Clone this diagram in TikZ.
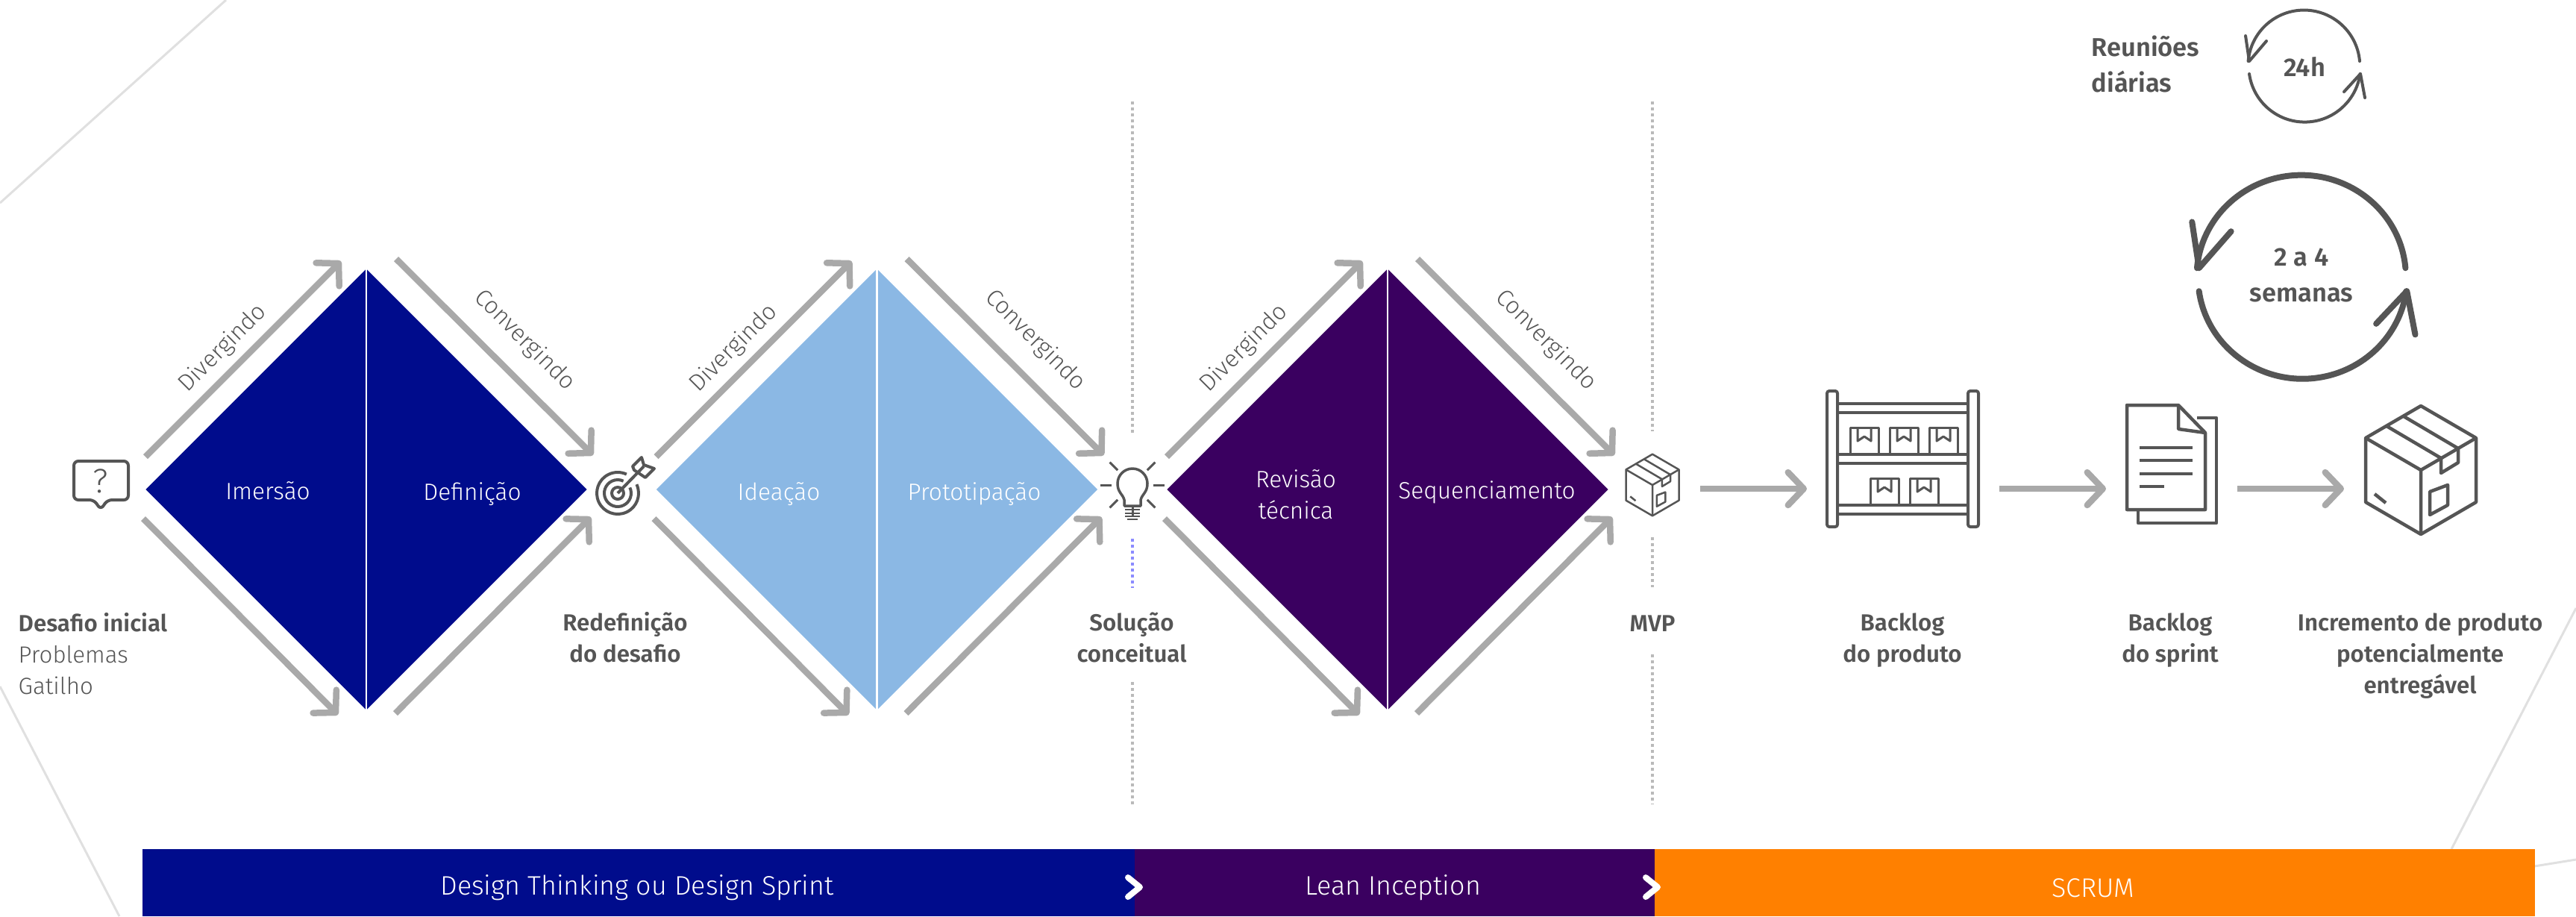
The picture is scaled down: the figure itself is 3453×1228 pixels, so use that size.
\documentclass[tikz,border=0pt]{standalone}
\usepackage{fontspec}
\setmainfont{Fira Sans}[UprightFont=* Light, BoldFont=* SemiBold]
\usepackage{tikz}
\usetikzlibrary{arrows.meta,shapes.geometric,calc}
\definecolor{navy}{HTML}{000C8C}
\definecolor{sky}{HTML}{8BB8E4}
\definecolor{plum}{HTML}{3A0060}
\definecolor{amber}{HTML}{FF8000}
\definecolor{flowgray}{HTML}{A9A9A9}
\definecolor{ink}{HTML}{555555}
\tikzset{
    boxicon/.pic = {
        \draw[icon] (0,-86) -- (74,-43) -- (74,43) -- (0,86) -- (-74,43) -- (-74,-43) -- cycle;
        \draw[icon] (-74,-43) -- (0,0) -- (74,-43) (0,0) -- (0,86);
        \draw[icon] (-23,-72) -- (50,-29) (-46,-59) -- (27,-16);
        \draw[icon] (27,-16) -- (27,4) -- (50,-10) -- (50,-29);
        \draw[icon] (12,29) -- (36,20) -- (36,47) -- (12,60) -- cycle;
        \draw[icon] (-62,32) -- (-47,44);
    },
    pkgicon/.pic = {
        \draw[icon] (0,34) -- (0,0) -- (38,0) -- (38,34);
        \draw[icon] (10,0) -- (10,18) -- (19,12) -- (28,18) -- (28,0);
    },
    cycleicon/.pic = {
        \draw[icon] (74,-7) arc[start angle=-5, end angle=-175, radius=75];
        \draw[icon] (-74,10) arc[start angle=172, end angle=8, radius=75];
        \draw[icon] (-74,-7) -- (-79,-41) (-74,-7) -- (-51,-34);
        \draw[icon] (75,10) -- (81,42) (75,10) -- (53,34);
    }
}
\begin{document}
\begin{tikzpicture}[x=.1mm, y=-.1mm,
    main/.style = {diamond, aspect=1, inner sep=0, minimum width=59.2mm, minimum height=59.2mm},
    txt/.style = {inner sep=0, text=white, font=\fontsize{9}{12}\selectfont, align=center},
    tilt/.style = {txt, text=ink},
    lbl/.style = {txt, text=ink, font=\fontsize{8.9}{12}\selectfont\bfseries},
    big/.style = {lbl, font=\fontsize{9.8}{13.6}\selectfont\bfseries},
    band/.style = {rectangle, inner sep=0, minimum height=9mm, anchor=west},
    flow/.style = {draw=flowgray, line width=.85mm, -{Straight Barb[length=2.1mm, width=4.4mm, round]}},
    dots/.style = {draw=black!27, line width=.4mm, dash pattern=on .4mm off .4mm},
    icon/.style = {draw=ink, line join=round},
    bgline/.style = {draw=black!12, line width=.3mm},
    node distance=68.45mm]

    \path[use as bounding box] (0,0) rectangle (3453,1228);
    \draw[bgline] (0,272) -- (303,0);
    \draw[bgline] (0,920) -- (160,1228);
    \draw[bgline] (3453,815) -- (3286,1138);
    \draw[bgline] (3397,1161) -- (3453,1152);

    \node[main, fill=navy] (1) at (491,656) {};
    \node[main, fill=sky, right of=1] (2) {};
    \node[main, fill=plum, right of=2] (3) {};

    \foreach \d in {1,2,3} {
        \draw[white, line width=.25mm] (\d.north) -- (\d.south);
        \coordinate (\d a) at ([shift={(-296,-44)}]\d.center);
        \coordinate (\d b) at ([shift={(-34,-306)}]\d.center);
        \coordinate (\d c) at ([shift={(40,-309)}]\d.center);
        \coordinate (\d e) at ([shift={(304,-46)}]\d.center);
        \coordinate (\d f) at ([shift={(-299,39)}]\d.center);
        \coordinate (\d g) at ([shift={(-38,302)}]\d.center);
        \coordinate (\d h) at ([shift={(39,300)}]\d.center);
        \coordinate (\d i) at ([shift={(301,37)}]\d.center);
        \draw[flow] (\d a) -- (\d b);
        \draw[flow] (\d c) -- (\d e);
        \draw[flow] (\d f) -- (\d g);
        \draw[flow] (\d h) -- (\d i);
        \node[tilt, rotate=45] (\d div) at ([shift={(-192,-189)}]\d.center) {Divergindo};
        \node[tilt, rotate=-45] (\d con) at ([shift={(212,-200)}]\d.center) {Convergindo};
    }

    \node[txt] (4) at (359,658) {Imersão};
    \node[txt] (5) at (633,662) {Definição};
    \node[txt] (6) at (1044,662) {Ideação};
    \node[txt] (7) at (1306,662) {Prototipação};
    \node[txt] (8) at (1737,663) {Revisão\\técnica};
    \node[txt] (9) at (1993,660) {Sequenciamento};

    \node[lbl, align=left, anchor=west] (10) at (24,876) {Desafio inicial\\\mdseries Problemas\\\mdseries Gatilho};
    \node[lbl] (11) at (838,854) {Redefinição\\do desafio};
    \node[lbl] (12) at (1517,854) {Solução\\conceitual};
    \node[lbl] (13) at (2215,836) {MVP};
    \node[lbl] (14) at (2550,858) {Backlog\\do produto};
    \node[lbl] (15) at (2909,858) {Backlog\\do sprint};
    \node[lbl] (16) at (3244,879) {Incremento de produto\\potencialmente\\entregável};
    \node[big, align=left, anchor=west] (17) at (2803,86) {Reuniões\\diárias};
    \node[big] (18) at (3089,89) {24h};
    \node[big] (19) at (3085,369) {2 a 4\\semanas};

    \coordinate (d1) at (1518,136);
    \coordinate (d2) at (1518,580);
    \coordinate (d3) at (1518,914);
    \coordinate (d4) at (1518,1078);
    \coordinate (d5) at (1518,722);
    \coordinate (d6) at (1518,788);
    \draw[dots] (d1) -- (d2);
    \draw[dots] (d3) -- (d4);
    \draw[dots, draw=blue!45] (d5) -- (d6);
    \coordinate (d7) at (2215,136);
    \coordinate (d8) at (2215,578);
    \coordinate (d9) at (2215,720);
    \coordinate (d10) at (2215,787);
    \coordinate (d11) at (2215,877);
    \coordinate (d12) at (2215,1078);
    \draw[dots] (d7) -- (d8);
    \draw[dots] (d9) -- (d10);
    \draw[dots] (d11) -- (d12);

    \coordinate (a1) at (2279,655);
    \coordinate (a2) at (2422,655);
    \coordinate (a3) at (2680,655);
    \coordinate (a4) at (2823,655);
    \coordinate (a5) at (2999,655);
    \coordinate (a6) at (3142,655);
    \draw[flow] (a1) -- (a2);
    \draw[flow] (a3) -- (a4);
    \draw[flow] (a5) -- (a6);

    \draw[icon, line width=.4mm, rounded corners=.6mm] (135,683) -- (126,670) -- (99,670) -- (99,618) -- (172,618) -- (172,670) -- (144,670) -- cycle;
    \node[txt, text=ink, font=\fontsize{13}{14}\selectfont] (20) at (135,645) {?};

    \draw[icon, line width=.4mm] (828,661) ++(-25:28) arc[start angle=-25, end angle=295, radius=28];
    \draw[icon, line width=.4mm] (828,661) ++(-25:18) arc[start angle=-25, end angle=295, radius=18];
    \draw[icon, line width=.4mm] (828,661) circle[radius=8];
    \draw[icon, line width=.4mm] (828,661) -- (863,625);
    \draw[icon, line width=.4mm] (850,630) -- (848,625) -- (860,613) -- (863,623) -- (877,628) -- (865,640) -- cycle;

    \draw[icon, line width=.35mm] (1507,678) -- (1507,670) .. controls (1505,662) and (1498,660) .. (1498,648) arc[start angle=-180, end angle=0, radius=20] .. controls (1538,660) and (1531,662) .. (1529,670) -- (1529,678) -- cycle;
    \foreach \y/\w in {683/10,688/10,692/10,696/7}
        \draw[icon, line width=.25mm] (1518-\w,\y) -- (1518+\w,\y);
    \foreach \a in {0,45,90,135,180,225,-45}
        \draw[icon, line width=.3mm, shift={(1518,650)}] (\a:28) -- (\a:43);

    \pic[scale=.48, line width=.25mm] at (2215,650) {boxicon};
    \pic[line width=.45mm] at (3245,630) {boxicon};

    \foreach \x in {2449,2638}
        \draw[icon, line width=.4mm, rounded corners=.3mm] (\x,524) rectangle (\x+14,706);
    \foreach \y in {541,553,609,621,677,689}
        \draw[icon, line width=.45mm] (2464,\y) -- (2638,\y);
    \foreach \x/\y in {2480/573,2533/573,2586/573,2507/641,2560/641}
        \pic[line width=.3mm] at (\x,\y) {pkgicon};

    \draw[icon, line width=.45mm] (2851,543) -- (2920,543) -- (2956,580) -- (2956,683) -- (2851,683) -- cycle;
    \draw[icon, line width=.45mm] (2920,543) -- (2920,575) -- (2956,580);
    \draw[icon, line width=.45mm] (2945,560) -- (2971,560) -- (2971,701) -- (2866,701) -- (2866,683);
    \foreach \y/\e in {600/2939,617/2939,635/2939,652/2901}
        \draw[icon, line width=.45mm] (2868,\y) -- (\e,\y);

    \pic[line width=.4mm, line cap=round] at (3089,89) {cycleicon};
    \pic[xscale=1.87, yscale=1.82, line width=.8mm, line cap=round] at (3086,372) {cycleicon};

    \node[band, minimum width=133mm, fill=navy] (21) at (190,1183) {};
    \node[band, minimum width=69.7mm, fill=plum] (22) at (1520,1183) {};
    \node[band, minimum width=118mm, fill=amber] (23) at (2217,1183) {};
    \node[txt, font=\fontsize{10.2}{12}\selectfont] (24) at (854,1190) {Design Thinking ou Design Sprint};
    \node[txt, font=\fontsize{10.2}{12}\selectfont] (25) at (1867,1190) {Lean Inception};
    \node[txt, font=\fontsize{10.2}{12}\selectfont] (26) at (2806,1190) {SCRUM};

    \foreach \x in {1512,2206}
        \draw[white, line width=.8mm, line cap=round, line join=round] (\x,1176) -- (\x+16,1189) -- (\x,1202);
\end{tikzpicture}
\end{document}
